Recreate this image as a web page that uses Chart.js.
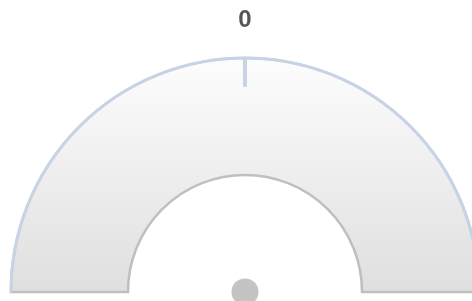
<!DOCTYPE html>
<html lang="en">
  <head>
    <meta charset="UTF-8" />
    <title>Gauge</title>
    <script src="https://cdn.jsdelivr.net/npm/chart.js"></script>
    <style>
      body {
        margin: 0;
        background: #ffffff;
        overflow: hidden;
      }
      .chart-container {
        position: relative;
        width: 472px;
        height: 301px;
      }
    </style>
  </head>
  <body>
    <div class="chart-container">
      <canvas id="gaugeChart"></canvas>
    </div>

    <script>
      // gauge data
      const gaugeLabels = ["Value"];
      const gaugeValues = [0];
      const gaugeMin = -1;
      const gaugeMax = 1;
      const tickLabels = ["0"];

      // axis line, value tick and pivot drawn over the pane
      const gaugeParts = {
        id: "gaugeParts",
        afterDatasetsDraw(chart) {
          const arc = chart.getDatasetMeta(0).data[0];
          if (!arc) return;
          const { x, y, outerRadius } = arc.getProps(["x", "y", "outerRadius"], true);
          const ctx = chart.ctx;
          ctx.save();
          // outer axis line
          ctx.strokeStyle = "#c6d4e5";
          ctx.lineWidth = 3;
          ctx.beginPath();
          ctx.arc(x, y, outerRadius, Math.PI, 2 * Math.PI);
          ctx.stroke();
          // tick at the value
          const frac = (gaugeValues[0] - gaugeMin) / (gaugeMax - gaugeMin);
          const ang = Math.PI + frac * Math.PI;
          ctx.lineWidth = 4;
          ctx.beginPath();
          ctx.moveTo(x + Math.cos(ang) * outerRadius, y + Math.sin(ang) * outerRadius);
          ctx.lineTo(x + Math.cos(ang) * (outerRadius - 29), y + Math.sin(ang) * (outerRadius - 29));
          ctx.stroke();
          // pivot
          ctx.fillStyle = "#c4c4c4";
          ctx.beginPath();
          ctx.arc(x, y, 13.5, 0, 2 * Math.PI);
          ctx.fill();
          ctx.restore();
        },
      };

      const gaugeCtx = document.getElementById("gaugeChart").getContext("2d");
      new Chart(gaugeCtx, {
        type: "doughnut",
        data: {
          labels: gaugeLabels,
          datasets: [
            {
              data: [gaugeMax - gaugeMin],
              backgroundColor: (context) => {
                const area = context.chart.chartArea;
                if (!area) return "#eeeeee";
                const g = context.chart.ctx.createLinearGradient(0, area.top, 0, area.bottom);
                g.addColorStop(0, "#fdfdfd");
                g.addColorStop(1, "#dfdfdf");
                return g;
              },
              borderColor: "#bfbfbf",
              borderWidth: 2.5,
              borderJoinStyle: "miter",
              hoverOffset: 0,
            },
          ],
        },
        options: {
          responsive: true,
          maintainAspectRatio: false,
          animation: false,
          rotation: -90,
          circumference: 180,
          cutout: "50%",
          radius: 234,
          layout: {
            padding: { left: 18, right: 0, top: 0, bottom: 9 },
          },
          events: [],
          plugins: {
            legend: { display: false },
            tooltip: { enabled: false },
            title: {
              display: true,
              text: tickLabels[0],
              color: "#555555",
              font: { family: "Liberation Sans", size: 24, weight: "bold" },
              padding: { top: 6, bottom: 23 },
            },
          },
        },
        plugins: [gaugeParts],
      });
    </script>
  </body>
</html>
